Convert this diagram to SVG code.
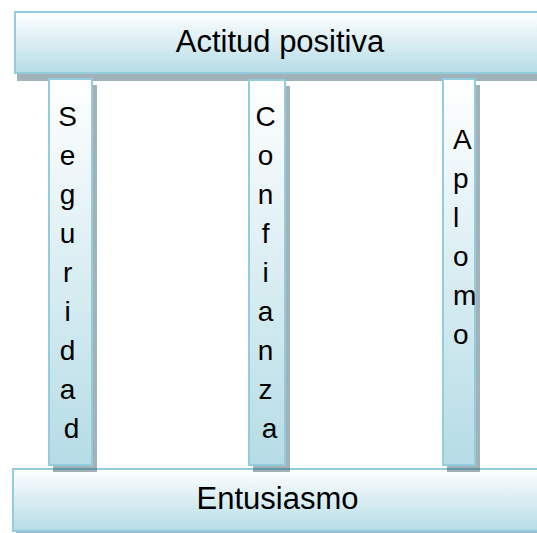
<svg xmlns="http://www.w3.org/2000/svg" width="537" height="533" viewBox="0 0 537 533">
  <defs>
    <linearGradient id="fillGrad" x1="0" y1="0" x2="0" y2="1">
      <stop offset="0" stop-color="#FFFFFF"/>
      <stop offset="1" stop-color="#B5DCE6"/>
    </linearGradient>
    <style>
      .box { fill: url(#fillGrad); stroke: #93CDDD; stroke-width: 2; }
      .shadow { fill: #2F5561; fill-opacity: 0.45; }
      .label { font-family: "Liberation Sans", Arial, sans-serif; font-size: 31px; fill: #000000; text-anchor: middle; }
      .vert { font-family: "Liberation Sans", Arial, sans-serif; font-size: 28px; fill: #000000; }
      .mid { text-anchor: middle; }
      .start { text-anchor: start; }
    </style>
  </defs>

  <g id="actitud-positiva">
    <rect class="shadow" x="17" y="19" width="540" height="62"/>
    <rect class="box" x="15" y="12" width="540" height="61"/>
    <text class="label" x="280" y="52">Actitud positiva</text>
  </g>

  <g id="entusiasmo">
    <rect class="shadow" x="16" y="476" width="540" height="62"/>
    <rect class="box" x="13" y="469" width="540" height="62"/>
    <text class="label" x="277.5" y="508.5">Entusiasmo</text>
  </g>

  <g id="connectors"/>

  <g id="seguridad">
    <rect class="shadow" x="53" y="85" width="44" height="387"/>
    <rect class="box" x="49" y="79" width="43" height="386"/>
    <text class="vert mid" x="71.5" y="125.5">
      <tspan x="71.5" y="125.5">S</tspan>
      <tspan x="71.5" y="164.5">e</tspan>
      <tspan x="71.5" y="203.5">g</tspan>
      <tspan x="71.5" y="242.5">u</tspan>
      <tspan x="71.5" y="281.5">r</tspan>
      <tspan x="71.5" y="320.5">i</tspan>
      <tspan x="71.5" y="359.5">d</tspan>
      <tspan x="71.5" y="398.5">a</tspan>
      <tspan x="71.5" y="437.5">d</tspan>
    </text>
  </g>

  <g id="confianza">
    <rect class="shadow" x="253" y="86" width="37" height="386"/>
    <rect class="box" x="249" y="80" width="36" height="385"/>
    <text class="vert mid" x="269.5" y="125.5">
      <tspan x="269.5" y="125.5">C</tspan>
      <tspan x="269.5" y="164.5">o</tspan>
      <tspan x="269.5" y="203.5">n</tspan>
      <tspan x="269.5" y="242.5">f</tspan>
      <tspan x="269.5" y="281.5">i</tspan>
      <tspan x="269.5" y="320.5">a</tspan>
      <tspan x="269.5" y="359.5">n</tspan>
      <tspan x="269.5" y="398.5">z</tspan>
      <tspan x="269.5" y="437.5">a</tspan>
    </text>
  </g>

  <g id="aplomo">
    <rect class="shadow" x="447" y="85" width="33" height="387"/>
    <rect class="box" x="443" y="79" width="32" height="386"/>
    <text class="vert start" x="453" y="149">
      <tspan x="453" y="149">A</tspan>
      <tspan x="453" y="188">p</tspan>
      <tspan x="453" y="227">l</tspan>
      <tspan x="453" y="266">o</tspan>
      <tspan x="453" y="305">m</tspan>
      <tspan x="453" y="344">o</tspan>
    </text>
  </g>
</svg>
